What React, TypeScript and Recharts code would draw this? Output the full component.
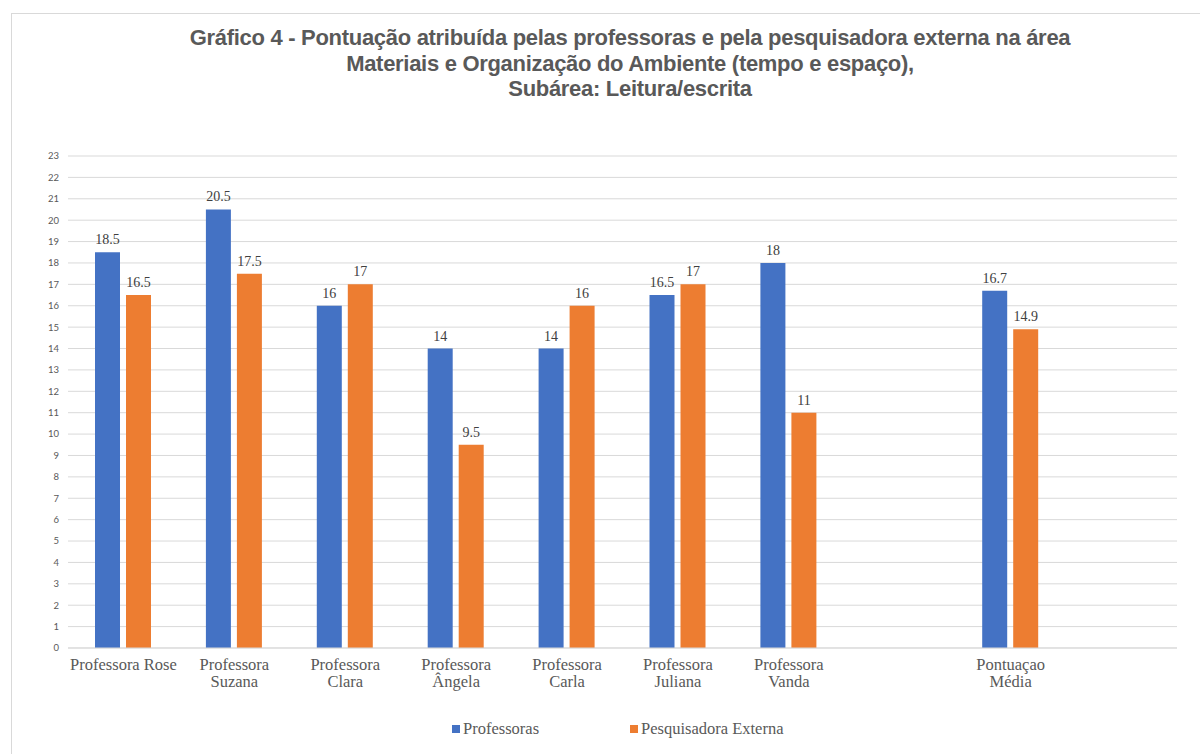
import React from 'react';

import { Bar, BarChart, CartesianGrid, LabelList, Legend, XAxis, YAxis } from 'recharts';

// Category names, '\n' breaks a label onto two lines; blank entries keep empty slots
const categories = [
	'Professora Rose',
	'Professora\nSuzana',
	'Professora\nClara',
	'Professora\nÂngela',
	'Professora\nCarla',
	'Professora\nJuliana',
	'Professora\nVanda',
	'',
	'Pontuaçao\nMédia',
	' ',
];

const professoras = [18.5, 20.5, 16, 14, 14, 16.5, 18, null, 16.7, null];
const pesquisadora = [16.5, 17.5, 17, 9.5, 16, 17, 11, null, 14.9, null];

const seriesNames = ['Professoras', 'Pesquisadora Externa'];

const yTicks = [0, 1, 2, 3, 4, 5, 6, 7, 8, 9, 10, 11, 12, 13, 14, 15, 16, 17, 18, 19, 20, 21, 22, 23];

const titleLines = [
	'Gráfico 4 - Pontuação atribuída pelas professoras e pela pesquisadora externa na área',
	'Materiais e Organização do Ambiente (tempo e espaço),',
	'Subárea: Leitura/escrita',
];

const data = categories.map((name, i) => ({
	name,
	Professoras: professoras[i],
	'Pesquisadora Externa': pesquisadora[i],
}));

const SERIF = '"Liberation Serif", "Times New Roman", serif';
const TEXT = '#595959';

const CategoryTick = (props: any) => {
	const { x, y, payload } = props;
	const lines = String(payload.value).trim() ? String(payload.value).split('\n') : [];
	return (
		<text x={x} y={y} textAnchor="middle" fill={TEXT} fontFamily={SERIF} fontSize={16.5}>
			{lines.map((line: string, i: number) => (
				<tspan key={i} x={x} y={y + 22 + i * 17}>
					{line}
				</tspan>
			))}
		</text>
	);
};

// Legend keeps the series order (Professoras first)
const renderLegend = (props: any) => {
	const payload = [...(props.payload || [])].sort(
		(a: any, b: any) => seriesNames.indexOf(a.value) - seriesNames.indexOf(b.value),
	);
	return (
		<div style={{ display: 'flex', paddingLeft: 452 }}>
			{payload.map((entry: any, i: number) => (
				<div
					key={i}
					style={{ display: 'flex', alignItems: 'center', width: i === 0 ? 178 : 'auto' }}
				>
					<span style={{ width: 8, height: 8, background: entry.color, marginRight: 3 }} />
					<span style={{ fontFamily: SERIF, fontSize: 16.5, color: TEXT }}>{entry.value}</span>
				</div>
			))}
		</div>
	);
};

const labelText = (v: any) => (v === null || v === undefined ? '' : v);

const App = () => {
	return (
		<div
			style={{
				position: 'absolute',
				left: 0,
				top: 0,
				width: 1200,
				height: 754,
				background: '#ffffff',
				overflow: 'hidden',
			}}
		>
			<div
				style={{
					position: 'absolute',
					left: 11,
					top: 13,
					width: 1220,
					height: 800,
					borderLeft: '1px solid #d9d9d9',
					borderTop: '1px solid #d9d9d9',
				}}
			/>
			<div
				style={{
					position: 'absolute',
					left: 60,
					top: 25,
					width: 1140,
					textAlign: 'center',
					fontFamily: '"Liberation Sans", Arial, sans-serif',
					fontWeight: 700,
					fontSize: 22,
					lineHeight: '25.5px',
					letterSpacing: -0.3,
					color: TEXT,
				}}
			>
				{titleLines.map((line, i) => (
					<div key={i}>{line}</div>
				))}
			</div>
			<BarChart
				width={1200}
				height={754}
				data={data}
				margin={{ top: 156, right: 23, bottom: 0, left: 0 }}
				barSize={25}
				barGap={6}
				style={{ position: 'absolute', left: 0, top: 0 }}
			>
				<CartesianGrid stroke="#d9d9d9" vertical={false} />
				<XAxis
					dataKey="name"
					height={106}
					tickLine={false}
					axisLine={{ stroke: '#d9d9d9' }}
					tickSize={0}
					tickMargin={0}
					interval={0}
					tick={<CategoryTick />}
				/>
				<YAxis
					width={68}
					domain={[0, 23]}
					ticks={yTicks}
					interval={0}
					axisLine={false}
					tickLine={false}
					tickSize={0}
					tickMargin={9}
					tick={{ fill: TEXT, fontSize: 9.5, fontFamily: 'Lato, "Open Sans", sans-serif' }}
				/>
				<Legend
					layout="horizontal"
					verticalAlign="middle"
					align="center"
					wrapperStyle={{ left: 0, top: 719, width: 1200 }}
					content={renderLegend}
				/>
				<Bar dataKey="Professoras" fill="#4472C4" isAnimationActive={false}>
					<LabelList
						dataKey="Professoras"
						position="top"
						offset={8}
						formatter={labelText}
						style={{ fill: '#404040', fontFamily: SERIF, fontSize: 14 }}
					/>
				</Bar>
				<Bar dataKey="Pesquisadora Externa" fill="#ED7D31" isAnimationActive={false}>
					<LabelList
						dataKey="Pesquisadora Externa"
						position="top"
						offset={8}
						formatter={labelText}
						style={{ fill: '#404040', fontFamily: SERIF, fontSize: 14 }}
					/>
				</Bar>
			</BarChart>
		</div>
	);
};

export default App;
